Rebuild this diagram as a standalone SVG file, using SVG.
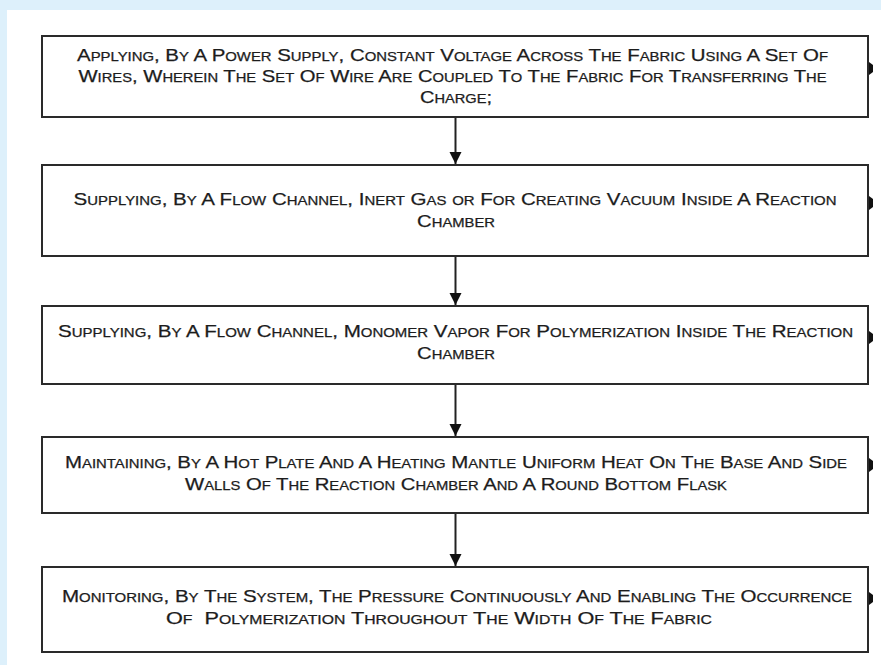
<svg xmlns="http://www.w3.org/2000/svg" width="881" height="665" viewBox="0 0 881 665">
<style>
.box{fill:#ffffff;stroke:#2a2a2a;stroke-width:2}
.t{font-family:"Liberation Sans",Arial,sans-serif;font-size:16.5px;font-variant:small-caps;fill:#1c1c1c;stroke:#1c1c1c;stroke-width:0.25;text-anchor:middle;white-space:pre}
.c{stroke:#222;stroke-width:2;fill:none}
.tick{fill:#111}
</style>
<defs>
<marker id="ah" markerUnits="userSpaceOnUse" markerWidth="14" markerHeight="14" refX="12" refY="6" orient="auto">
<path d="M0,0 L12,6 L0,12 z" fill="#111"/>
</marker>
</defs>
<rect x="0" y="0" width="881" height="665" fill="#ddf0fb"/>
<rect x="7" y="10" width="874" height="655" fill="#ffffff"/>
<g id="connectors">
<line class="c" x1="455.5" y1="117" x2="455.5" y2="164" marker-end="url(#ah)"/>
<line class="c" x1="455.5" y1="256" x2="455.5" y2="305" marker-end="url(#ah)"/>
<line class="c" x1="455.5" y1="384" x2="455.5" y2="436" marker-end="url(#ah)"/>
<line class="c" x1="455.5" y1="513" x2="455.5" y2="566" marker-end="url(#ah)"/>
</g>
<g id="step1">
<rect class="box" x="42" y="36" width="826" height="81"/>
<polygon class="tick" points="869,62 873,65 873,72 869,75"/>
<text class="t" x="452.5" y="61" textLength="751" lengthAdjust="spacingAndGlyphs">Applying, By A Power Supply, Constant Voltage Across The Fabric Using A Set Of</text>
<text class="t" x="452.5" y="82" textLength="748" lengthAdjust="spacingAndGlyphs">Wires, Wherein The Set Of Wire Are Coupled To The Fabric For Transferring The</text>
<text class="t" x="456" y="103" textLength="72" lengthAdjust="spacingAndGlyphs">Charge;</text>
</g>
<g id="step2">
<rect class="box" x="42" y="165" width="826" height="91"/>
<polygon class="tick" points="869,196 873,199 873,207 869,210"/>
<text class="t" x="455" y="205" textLength="763" lengthAdjust="spacingAndGlyphs">Supplying, By A Flow Channel, Inert Gas or For Creating Vacuum Inside A Reaction</text>
<text class="t" x="456" y="226.5" textLength="78" lengthAdjust="spacingAndGlyphs">Chamber</text>
</g>
<g id="step3">
<rect class="box" x="42" y="306" width="826" height="78"/>
<polygon class="tick" points="869,331 873,334 873,341 869,344"/>
<text class="t" x="455.5" y="337" textLength="795" lengthAdjust="spacingAndGlyphs">Supplying, By A Flow Channel, Monomer Vapor For Polymerization Inside The Reaction</text>
<text class="t" x="456" y="359" textLength="78" lengthAdjust="spacingAndGlyphs">Chamber</text>
</g>
<g id="step4">
<rect class="box" x="42" y="437" width="826" height="76"/>
<polygon class="tick" points="869,458 873,461 873,469 869,472"/>
<text class="t" x="456" y="468" textLength="782" lengthAdjust="spacingAndGlyphs">Maintaining, By A Hot Plate And A Heating Mantle Uniform Heat On The Base And Side</text>
<text class="t" x="456" y="490" textLength="542" lengthAdjust="spacingAndGlyphs">Walls Of The Reaction Chamber And A Round Bottom Flask</text>
</g>
<g id="step5">
<rect class="box" x="42" y="567" width="826" height="85"/>
<polygon class="tick" points="869,592 873,595 873,602 869,605"/>
<text class="t" x="457" y="602" textLength="790" lengthAdjust="spacingAndGlyphs">Monitoring, By The System, The Pressure Continuously And Enabling The Occurrence</text>
<text class="t" x="439" y="624" textLength="546" lengthAdjust="spacingAndGlyphs">Of  Polymerization Throughout The Width Of The Fabric</text>
</g>
</svg>
